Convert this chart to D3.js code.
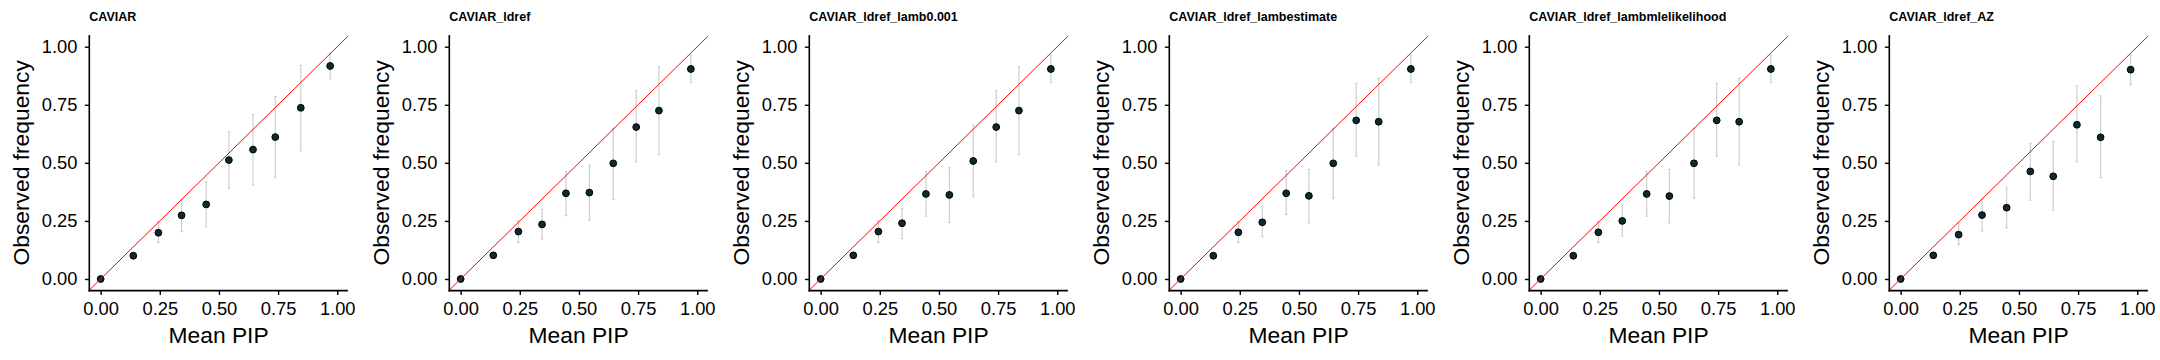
<!DOCTYPE html>
<html>
<head>
<meta charset="utf-8">
<script src="https://cdn.jsdelivr.net/npm/d3@7"></script>
<style>
  html, body { margin: 0; padding: 0; background: #fff; }
  svg { display: block; font-family: "Liberation Sans", Arial, Helvetica, sans-serif; }
</style>
</head>
<body>
<svg id="chart" width="2160" height="360"></svg>
<script>
// ---- data ----
const panelTitles = [
  "CAVIAR",
  "CAVIAR_ldref",
  "CAVIAR_ldref_lamb0.001",
  "CAVIAR_ldref_lambestimate",
  "CAVIAR_ldref_lambmlelikelihood",
  "CAVIAR_ldref_AZ"
];

const meanPIP = [
  [0, 0.138, 0.244, 0.342, 0.446, 0.542, 0.644, 0.738, 0.846, 0.970],
  [0, 0.138, 0.244, 0.344, 0.445, 0.544, 0.645, 0.742, 0.838, 0.973],
  [0, 0.138, 0.244, 0.344, 0.445, 0.544, 0.645, 0.742, 0.838, 0.973],
  [0, 0.138, 0.244, 0.345, 0.446, 0.542, 0.645, 0.742, 0.837, 0.973],
  [0, 0.138, 0.244, 0.345, 0.448, 0.544, 0.648, 0.744, 0.839, 0.973],
  [0, 0.138, 0.245, 0.344, 0.448, 0.548, 0.645, 0.745, 0.845, 0.972]
];

const observedFreq = [
  [0, 0.100, 0.199, 0.274, 0.321, 0.512, 0.557, 0.611, 0.737, 0.917],
  [0, 0.102, 0.204, 0.235, 0.369, 0.372, 0.498, 0.654, 0.725, 0.904],
  [0, 0.102, 0.204, 0.240, 0.366, 0.362, 0.508, 0.654, 0.725, 0.904],
  [0, 0.100, 0.201, 0.244, 0.369, 0.358, 0.498, 0.683, 0.677, 0.904],
  [0, 0.100, 0.201, 0.250, 0.366, 0.357, 0.498, 0.683, 0.677, 0.904],
  [0, 0.102, 0.191, 0.275, 0.307, 0.463, 0.442, 0.664, 0.610, 0.901]
];

const lowerCI = [
  [0, 0.090, 0.158, 0.204, 0.225, 0.390, 0.405, 0.438, 0.552, 0.861],
  [0, 0.092, 0.158, 0.171, 0.273, 0.253, 0.343, 0.504, 0.535, 0.846],
  [0, 0.092, 0.158, 0.174, 0.270, 0.244, 0.354, 0.504, 0.535, 0.846],
  [0, 0.090, 0.158, 0.182, 0.278, 0.242, 0.348, 0.528, 0.491, 0.846],
  [0, 0.090, 0.158, 0.185, 0.271, 0.242, 0.348, 0.528, 0.491, 0.846],
  [0, 0.092, 0.148, 0.207, 0.221, 0.339, 0.296, 0.504, 0.436, 0.837]
];

const upperCI = [
  [0.005, 0.110, 0.247, 0.340, 0.419, 0.634, 0.709, 0.785, 0.920, 0.971],
  [0.005, 0.112, 0.250, 0.300, 0.462, 0.490, 0.648, 0.811, 0.914, 0.964],
  [0.005, 0.112, 0.250, 0.304, 0.462, 0.479, 0.663, 0.811, 0.914, 0.964],
  [0.005, 0.110, 0.247, 0.311, 0.466, 0.472, 0.648, 0.842, 0.864, 0.964],
  [0.005, 0.110, 0.247, 0.318, 0.462, 0.472, 0.648, 0.842, 0.864, 0.964],
  [0.005, 0.112, 0.240, 0.343, 0.395, 0.584, 0.591, 0.831, 0.788, 0.964]
];

const tickValues = [0, 0.25, 0.5, 0.75, 1];
const tickLabels = ["0.00", "0.25", "0.50", "0.75", "1.00"];
const xTitle = "Mean PIP";
const yTitle = "Observed frequency";

// ---- layout ----
const panelW = 360;
const plotLeft = 89.3, plotRight = 347.9, plotTop = 35.1, plotBottom = 290.6;

const svg = d3.select("#chart");

panelTitles.forEach((title, p) => {
  const g = svg.append("g").attr("transform", `translate(${p * panelW},0)`);

  const x = d3.scaleLinear().domain([-0.048, 1.045]).range([plotLeft, plotRight]);
  const y = d3.scaleLinear().domain([-0.05, 1.05]).range([plotBottom, plotTop]);

  const clipId = "clip" + p;
  g.append("clipPath").attr("id", clipId)
    .append("rect")
    .attr("x", plotLeft).attr("y", plotTop)
    .attr("width", plotRight - plotLeft).attr("height", plotBottom - plotTop);

  const rows = meanPIP[p].map((v, i) => ({
    x: v, y: observedFreq[p][i], lo: lowerCI[p][i], hi: upperCI[p][i]
  }));

  const plot = g.append("g").attr("clip-path", `url(#${clipId})`);

  // error bars
  const eb = plot.append("g").attr("stroke", "#cfcfcf").attr("stroke-width", 1.2).attr("fill", "none");
  rows.forEach(d => {
    eb.append("line").attr("x1", x(d.x)).attr("x2", x(d.x)).attr("y1", y(d.lo)).attr("y2", y(d.hi));
    eb.append("line").attr("x1", x(d.x) - 1.3).attr("x2", x(d.x) + 1.3).attr("y1", y(d.lo)).attr("y2", y(d.lo));
    eb.append("line").attr("x1", x(d.x) - 1.3).attr("x2", x(d.x) + 1.3).attr("y1", y(d.hi)).attr("y2", y(d.hi));
  });

  // points
  plot.append("g").selectAll("circle").data(rows).join("circle")
    .attr("cx", d => x(d.x)).attr("cy", d => y(d.y)).attr("r", 3.4)
    .attr("fill", "#0b2a33").attr("stroke", "#000").attr("stroke-width", 1);

  // identity line
  plot.append("line")
    .attr("x1", x(-0.2)).attr("y1", y(-0.2))
    .attr("x2", x(1.2)).attr("y2", y(1.2))
    .attr("stroke", "#ff0000").attr("stroke-width", 1);

  // axes
  const yAxis = d3.axisLeft(y).tickValues(tickValues)
    .tickFormat((d, i) => tickLabels[i]).tickSizeInner(4.4).tickSizeOuter(0).tickPadding(7.5);
  const xAxis = d3.axisBottom(x).tickValues(tickValues)
    .tickFormat((d, i) => tickLabels[i]).tickSizeInner(4.4).tickSizeOuter(0).tickPadding(7);

  const ya = g.append("g").attr("transform", `translate(${plotLeft},0)`).call(yAxis);
  const xa = g.append("g").attr("transform", `translate(0,${plotBottom})`).call(xAxis);
  [ya, xa].forEach(a => {
    a.selectAll(".domain").attr("stroke", "#000").attr("stroke-width", 1.6);
    a.selectAll(".tick line").attr("stroke", "#000").attr("stroke-width", 1.4);
    a.selectAll(".tick text").attr("fill", "#000")
      .style("font-size", "18.3px").style("font-family", "'Liberation Sans', Arial, sans-serif");
  });
  ya.select(".domain").attr("d", `M0,${plotTop}V${plotBottom + 0.8}`);
  xa.select(".domain").attr("d", `M${plotLeft - 0.8},0H${plotRight}`);

  // titles
  g.append("text").attr("x", plotLeft).attr("y", 20.6)
    .attr("font-size", 12.5).attr("font-weight", "bold").attr("fill", "#000")
    .text(title);

  g.append("text")
    .attr("x", (plotLeft + plotRight) / 2).attr("y", 343)
    .attr("text-anchor", "middle").attr("font-size", 22.8).attr("fill", "#000")
    .text(xTitle);

  g.append("text")
    .attr("transform", `translate(29.3,${(plotTop + plotBottom) / 2}) rotate(-90)`)
    .attr("text-anchor", "middle").attr("font-size", 22.8).attr("fill", "#000")
    .text(yTitle);
});
</script>
</body>
</html>
